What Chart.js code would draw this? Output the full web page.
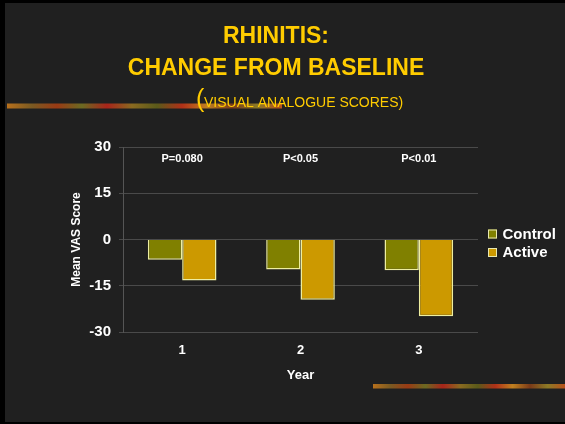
<!DOCTYPE html>
<html>
<head>
<meta charset="utf-8">
<title>Rhinitis: change from baseline</title>
<script src="https://cdn.jsdelivr.net/npm/chart.js@4"></script>
<style>
  html, body { margin: 0; padding: 0; background: #000; }
  canvas { display: block; }
</style>
</head>
<body>
<canvas id="chart" width="565" height="424"></canvas>
<script>
// Mean change in visual analogue score (VAS) from baseline, per study year
const years = ['1', '2', '3'];
const controlScores = [-6.6, -9.7, -10.0];
const activeScores = [-13.3, -19.5, -24.9];
const pValues = ['P=0.080', 'P<0.05', 'P<0.01'];
const yTicks = [30, 15, 0, -15, -30];
const seriesNames = ['Control', 'Active'];
const titleLines = ['RHINITIS:', 'CHANGE FROM BASELINE'];
const subtitleText = 'VISUAL ANALOGUE SCORES)';

const FONT = "'Liberation Sans', Arial, Helvetica, sans-serif";
const GOLD = '#FFCC00';
const BG = '#202020';

// Textured rule used as slide decoration
function drawStripe(ctx, x, y, w, h) {
  const g = ctx.createLinearGradient(x, 0, x + w, 0);
  const stops = ['#b8701c', '#7a5a22', '#9a3a14', '#6b6a22', '#a8241a', '#8a6a20',
                 '#5a5a1a', '#b03018', '#c08020', '#7a3a18', '#8c7a26', '#b8501a'];
  stops.forEach((c, i) => g.addColorStop(i / (stops.length - 1), c));
  ctx.fillStyle = g;
  ctx.fillRect(x, y, w, h);
}

const slideDecor = {
  id: 'slideDecor',
  beforeDraw(chart) {
    const ctx = chart.ctx;
    ctx.save();
    ctx.fillStyle = '#000';
    ctx.fillRect(0, 0, chart.width, chart.height);
    ctx.fillStyle = BG;
    ctx.fillRect(5, 3, chart.width - 5, chart.height - 5);

    drawStripe(ctx, 7, 103.5, 275, 5);
    drawStripe(ctx, 373, 384, 192, 4.5);

    ctx.fillStyle = GOLD;
    ctx.textAlign = 'center';
    ctx.textBaseline = 'alphabetic';
    ctx.font = 'bold 23px ' + FONT;
    ctx.fillText(titleLines[0], 276, 43);
    ctx.fillText(titleLines[1], 276, 75);

    ctx.textAlign = 'left';
    ctx.font = '25px ' + FONT;
    ctx.fillText('(', 196, 107.4);
    ctx.font = '14px ' + FONT;
    ctx.fillText(subtitleText, 204, 107.4);
    ctx.restore();
  },
  afterDraw(chart) {
    const ctx = chart.ctx;
    const xScale = chart.scales.x;
    ctx.save();
    // significance labels above each year
    ctx.fillStyle = '#FFFFFF';
    ctx.font = 'bold 11px ' + FONT;
    ctx.textAlign = 'center';
    ctx.textBaseline = 'middle';
    pValues.forEach((p, i) => {
      ctx.fillText(p, xScale.getPixelForValue(i), 158.5);
    });

    // legend
    ctx.textAlign = 'left';
    ctx.font = 'bold 15px ' + FONT;
    chart.data.datasets.forEach((ds, i) => {
      const y = 234 + i * 18.5;
      ctx.fillStyle = ds.backgroundColor;
      ctx.fillRect(488, y - 4.5, 9, 9);
      ctx.strokeStyle = '#E8E8B0';
      ctx.lineWidth = 1;
      ctx.strokeRect(488.5, y - 4, 8, 8);
      ctx.fillStyle = '#FFFFFF';
      ctx.fillText(ds.label, 502.5, y + 0.5);
    });
    ctx.restore();
  }
};

new Chart(document.getElementById('chart'), {
  type: 'bar',
  data: {
    labels: years,
    datasets: [
      {
        label: seriesNames[0],
        data: controlScores,
        backgroundColor: '#808000',
        borderColor: '#EEEEA0',
        borderWidth: 1.5
      },
      {
        label: seriesNames[1],
        data: activeScores,
        backgroundColor: '#CC9900',
        borderColor: '#EEEEA0',
        borderWidth: 1.5
      }
    ]
  },
  options: {
    responsive: false,
    devicePixelRatio: 1,
    animation: false,
    layout: { padding: { left: 65, top: 147, right: 87, bottom: 37 } },
    datasets: { bar: { barPercentage: 1.0, categoryPercentage: 0.58 } },
    plugins: {
      legend: { display: false },
      title: { display: false },
      tooltip: { enabled: false }
    },
    scales: {
      x: {
        grid: { display: false },
        border: { display: false },
        ticks: {
          color: '#FFFFFF',
          font: { family: FONT, size: 13, weight: 'bold' },
          padding: 3,
          maxRotation: 0
        },
        title: {
          display: true,
          text: 'Year',
          color: '#FFFFFF',
          font: { family: FONT, size: 13, weight: 'bold' },
          padding: { top: 4, bottom: 4 }
        },
        afterFit(scale) { scale.height = 55; }
      },
      y: {
        min: -30,
        max: 30,
        afterBuildTicks(scale) { scale.ticks = yTicks.map(v => ({ value: v })); },
        grid: { color: '#4a4a4a', lineWidth: 1, tickLength: 4 },
        border: { display: true, color: '#555555', width: 1 },
        ticks: {
          color: '#FFFFFF',
          font: { family: FONT, size: 15, weight: 'bold' },
          padding: 8
        },
        title: {
          display: true,
          text: 'Mean VAS Score',
          color: '#FFFFFF',
          font: { family: FONT, size: 12, weight: 'bold' },
          padding: { top: 4, bottom: 4 }
        },
        afterFit(scale) { scale.width = 58; }
      }
    }
  },
  plugins: [slideDecor]
});
</script>
</body>
</html>
